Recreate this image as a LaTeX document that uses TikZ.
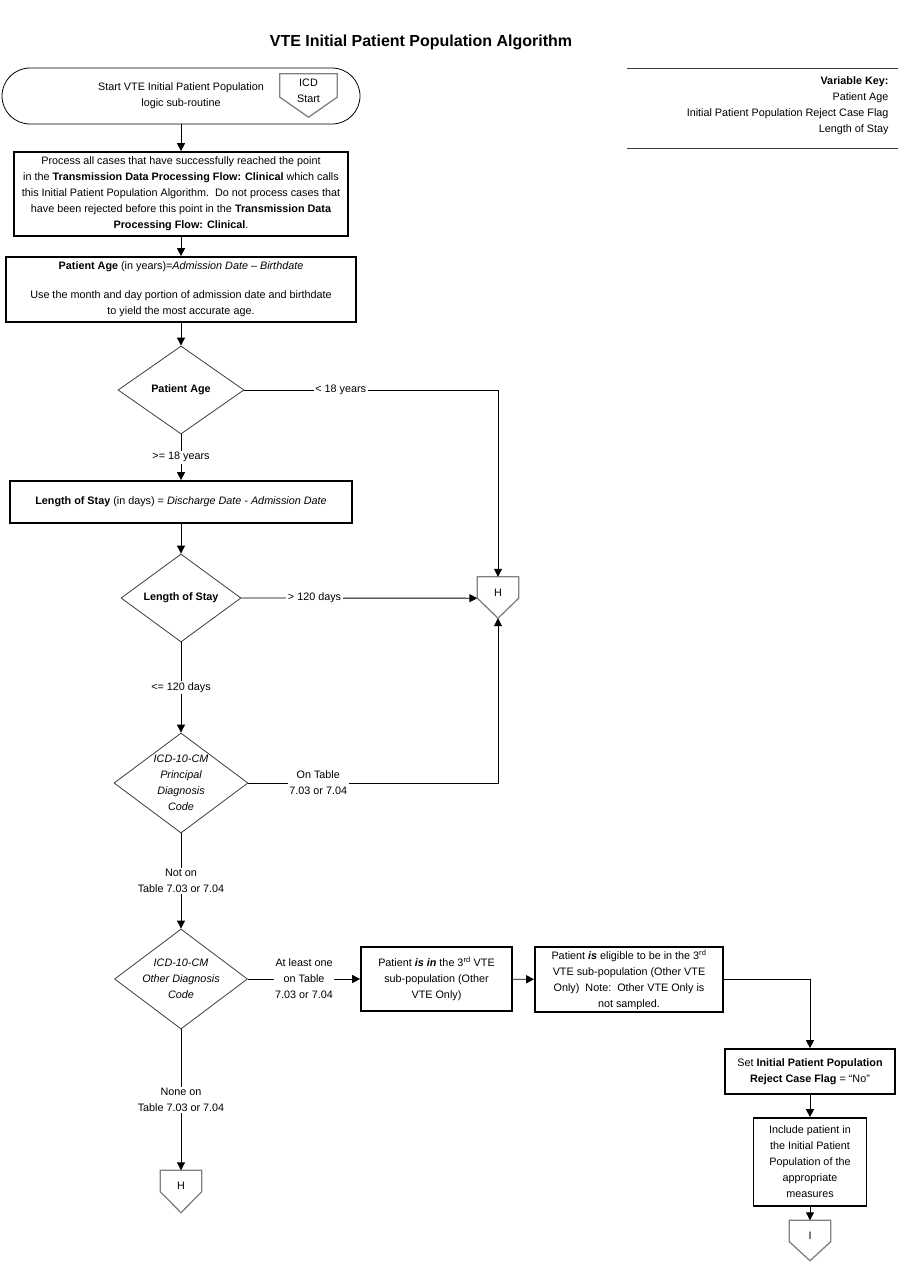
\documentclass[tikz,border=0pt]{standalone}
\usepackage{fontspec}
\setmainfont{Liberation Sans}
\usetikzlibrary{arrows.meta,positioning,calc,shapes.geometric}
\definecolor{connectgray}{RGB}{128,128,128}
\definecolor{decisiongray}{RGB}{60,60,60}
\newcommand{\flowfont}{\fontsize{10.8}{16}\selectfont}
\tikzset{
  flowbox/.style={draw, line width=1.7pt, align=center, inner sep=1pt, font=\flowfont},
  flowterm/.style={draw, line width=0.8pt, rounded corners=28pt, minimum width=358pt, minimum height=56pt, align=center, font=\flowfont},
  flowdecision/.style={draw=decisiongray, line width=0.8pt, diamond, aspect=1.4, inner sep=0pt, align=center, font=\flowfont},
  offpage/.style={minimum width=41pt, minimum height=21pt, inner sep=0pt},
  offpagetext/.style={align=center, font=\flowfont, yshift=-5pt},
  offpageline/.style={draw=connectgray, line width=1.3pt},
  flowmsg/.style={-{Triangle[length=8pt,width=8pt]}, line width=0.9pt},
  flowlabel/.style={fill=white, inner sep=1.5pt, align=center, font=\flowfont},
  keyline/.style={draw=decisiongray, line width=1pt}
}
\newcommand{\drawoffpage}[2]{%
  \coordinate (#1tip) at ($(#1.south)+(0,#2)$);
  \draw[offpageline] (#1.north west) -- (#1.south west) -- (#1tip) -- (#1.south east) -- (#1.north east) -- cycle;}

\begin{document}
\begin{tikzpicture}[x=1pt,y=-1pt]
\useasboundingbox (0,0) rectangle (900,1286);
\node[font=\fontsize{16}{18}\selectfont\bfseries] (title) at (421,42) {VTE Initial Patient Population Algorithm};
% variable key
\node[align=right, anchor=east, font=\flowfont] (varkey) at (892,106) {\textbf{Variable Key:}\\Patient Age\\Initial Patient Population Reject Case Flag\\Length of Stay};
\draw[keyline] (627,68) -- (898,68);
\draw[keyline] (627,148) -- (898,148);
% main column
\node[flowterm] (start) at (181,96) {Start VTE Initial Patient Population\\logic sub-routine};
\node[offpage, minimum width=57pt, minimum height=23pt, label={[offpagetext]center:{ICD\\Start}}] (icdstart) at (308.5,85.5) {};
\drawoffpage{icdstart}{20}
\node[flowbox, minimum width=334pt, minimum height=84pt] (process) at (181,194) {Process all cases that have successfully reached the point\\in the \textbf{Transmission Data Processing Flow: Clinical} which calls\\this Initial Patient Population Algorithm.\ \ Do not process cases that\\have been rejected before this point in the \textbf{Transmission Data}\\\textbf{Processing Flow: Clinical}.};
\node[flowbox, minimum width=350pt, minimum height=65pt] (agecalc) at (181,289.5) {\textbf{Patient Age} (in years)=\textit{Admission Date – Birthdate}\\[13pt]Use the month and day portion of admission date and birthdate\\to yield the most accurate age.};
\node[flowdecision, minimum width=126pt, minimum height=88pt] (dage) at (181,390) {\textbf{Patient Age}};
\node[flowbox, minimum width=342pt, minimum height=42pt] (loscalc) at (181,502) {\textbf{Length of Stay} (in days) = \textit{Discharge Date - Admission Date}};
\node[flowdecision, minimum width=120pt, minimum height=88pt] (dlos) at (181,598) {\textbf{Length of Stay}};
\node[flowdecision, minimum width=134pt, minimum height=100pt, label={[align=center, font=\flowfont\itshape]center:{ICD-10-CM\\Principal\\Diagnosis\\Code}}] (dprin) at (181,783) {};
\node[flowdecision, minimum width=133pt, minimum height=100pt, label={[align=center, font=\flowfont\itshape]center:{ICD-10-CM\\Other Diagnosis\\Code}}] (dother) at (181,979) {};
\node[offpage, label={[offpagetext]center:H}] (hbottom) at (181,1181) {};
\drawoffpage{hbottom}{21}
\node[offpage, label={[offpagetext]center:H}] (hright) at (498,587.5) {};
\drawoffpage{hright}{20}
% other VTE branch
\node[flowbox, minimum width=151pt, minimum height=64pt] (inpop) at (436.5,979) {Patient \textbf{\textit{is in}} the 3\textsuperscript{rd} VTE\\sub-population (Other\\VTE Only)};
\node[flowbox, minimum width=188pt, minimum height=65pt, inner sep=0pt] (eligible) at (629,979.5) {Patient \textbf{\textit{is}} eligible to be in the 3\textsuperscript{rd}\\VTE sub-population (Other VTE\\Only)\ \ Note:\ \ Other VTE Only is\\not sampled.};
\node[flowbox, minimum width=170pt, minimum height=45pt] (setflag) at (810,1071.5) {Set \textbf{Initial Patient Population}\\\textbf{Reject Case Flag} = “No”};
\node[flowbox, minimum width=113pt, minimum height=88pt] (include) at (810,1162) {Include patient in\\the Initial Patient\\Population of the\\appropriate\\measures};
\node[offpage, label={[offpagetext]center:I}] (iconn) at (810,1231) {};
\drawoffpage{iconn}{19}
% connectors
\draw[flowmsg] (start) -- (process);
\draw[flowmsg] (process) -- (agecalc);
\draw[flowmsg] (agecalc) -- (dage);
\draw[flowmsg] (dage) -- node[flowlabel] {>= 18 years} (loscalc);
\draw[flowmsg] (dage.east) -| node[flowlabel, pos=0.19] {< 18 years} (hright.north);
\draw[flowmsg] (loscalc) -- (dlos);
\draw[flowmsg] (dlos.east) -- node[flowlabel, pos=0.31] {> 120 days} (hright.south west);
\draw[flowmsg] (dlos) -- node[flowlabel] {<= 120 days} (dprin);
\draw[flowmsg] (dprin.east) -| node[flowlabel, pos=0.14] {On Table\\7.03 or 7.04} (hrighttip);
\draw[flowmsg] (dprin) -- node[flowlabel] {Not on\\Table 7.03 or 7.04} (dother);
\draw[flowmsg] (dother) -- node[flowlabel] {None on\\Table 7.03 or 7.04} (hbottom.north);
\draw[flowmsg] (dother.east) -- node[flowlabel] {At least one\\on Table\\7.03 or 7.04} (inpop);
\draw[flowmsg] (inpop) -- (eligible);
\draw[flowmsg] (eligible.east) -| (setflag.north);
\draw[flowmsg] (setflag) -- (include);
\draw[flowmsg] (include) -- (iconn.north);
\end{tikzpicture}
\end{document}
